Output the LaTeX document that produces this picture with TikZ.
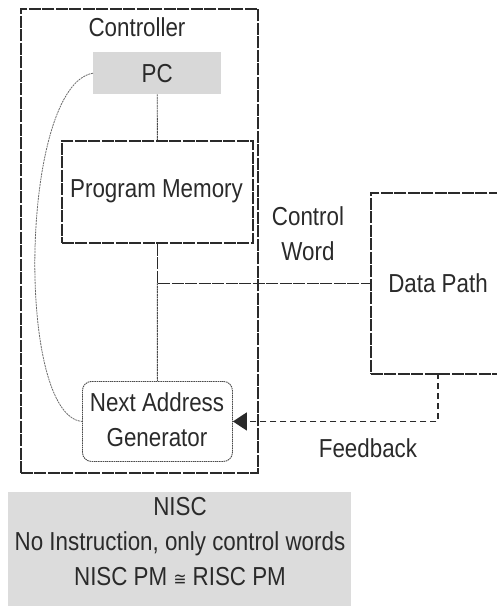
\documentclass[tikz,border=0pt]{standalone}
\usepackage{fontspec}
\setmainfont[FakeStretch=0.86]{Liberation Sans}
\newfontfamily\symfont[FakeStretch=0.86]{DejaVu Sans}
\usetikzlibrary{arrows.meta}
\definecolor{ink}{HTML}{2A2A2A}
\definecolor{shade}{HTML}{DCDCDC}
\definecolor{pcgray}{HTML}{D8D8D8}
\tikzset{
  txt/.style={font=\fontsize{26}{35}\selectfont, text=ink, inner sep=0pt, align=center},
  blockbox/.style={draw=ink, line width=1.8pt, dash pattern=on 12pt off 1.5pt, inner sep=0pt},
  wire/.style={draw=ink, line width=1.8pt, dash pattern=on 12pt off 1.5pt},
  thinwire/.style={draw=ink!85, line width=0.9pt, dash pattern=on 2pt off 0.6pt},
  loopwire/.style={draw=ink!70, line width=0.8pt, dash pattern=on 2pt off 0.8pt},
  fbwire/.style={draw=ink, line width=1.6pt, dash pattern=on 6pt off 4pt},
}
\begin{document}
\begin{tikzpicture}[x=1pt, y=-1pt]
\useasboundingbox (0,0) rectangle (497,606);

% Controller frame
\node[blockbox, anchor=north west, minimum width=237pt, minimum height=464pt] (ctrl) at (20,8) {};
\node[txt] (ctrltitle) at (137,27) {Controller};

% Program counter
\node[fill=pcgray, anchor=north west, minimum width=128pt, minimum height=42pt, inner sep=0pt] (pc) at (93,52) {};
\node[txt] (pctext) at (pc.center) {PC};

% Program memory
\node[blockbox, anchor=north west, minimum width=191pt, minimum height=102pt] (pm) at (61,140) {};
\node[txt] (pmtext) at (156.5,191) {Program Memory};

% Next address generator
\node[draw=ink!85, line width=0.9pt, dash pattern=on 1.5pt off 0.7pt, rounded corners=9pt,
      anchor=north west, minimum width=150pt, minimum height=80pt, inner sep=0pt] (nag) at (82,381) {};
\node[txt] (nagtext) at (157,420) {Next Address\\Generator};

% Data path (runs off the right edge)
\begin{scope}
  \clip (0,0) rectangle (497,606);
  \node[blockbox, anchor=north west, minimum width=150pt, minimum height=181pt] (dp) at (370,192) {};
\end{scope}
\node[txt] (dptext) at (438,283) {Data Path};

% Connectors
\coordinate (junc) at (pm.south |- dp.west);
\draw[thinwire] (pc.south) -- (pm.north);
\draw[wire] (pm.south) -- (junc) -- (dp.west);
\draw[thinwire] (junc) -- (nag.north);
\draw[loopwire] (pc.west) .. controls (20,85) and (15,415) .. (nag.west);
\coordinate (fbtop) at (438,373);
\draw[fbwire, -{Triangle[length=14pt, width=18pt]}] (fbtop) |- (nag.east);

% Connector labels
\node[txt] (cwlabel) at (308,234) {Control\\Word};
\node[txt] (fblabel) at (368,448) {Feedback};

% Summary panel
\node[fill=shade, anchor=north west, minimum width=343pt, minimum height=118pt, inner sep=0pt] (nisc) at (8,492) {};
\node[txt] (nisctext) at (180,542) {NISC\\No Instruction, only control words\\NISC PM {\symfont\fontsize{18}{18}\selectfont ≅} RISC PM};
\end{tikzpicture}
\end{document}
